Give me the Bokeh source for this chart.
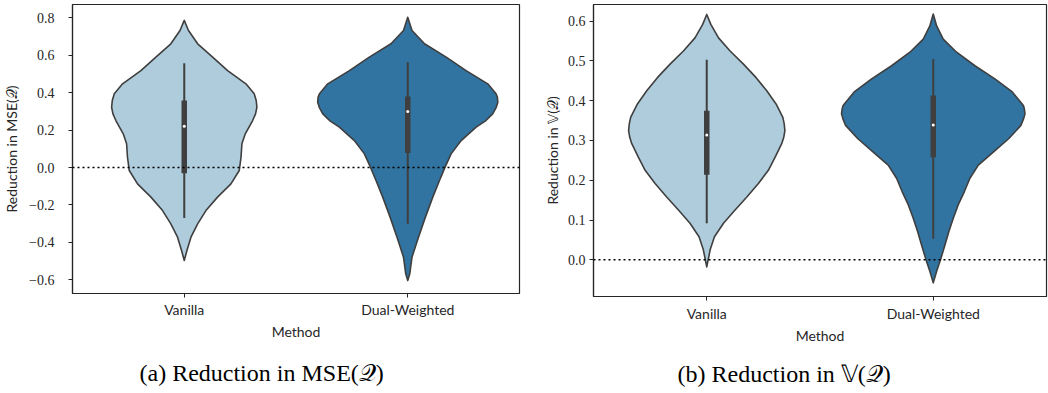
from bokeh.plotting import figure
from bokeh.layouts import row
from bokeh.models import Range1d, FixedTicker, Span, Title, CustomJSTickFormatter
from bokeh.embed import file_html
from bokeh.resources import INLINE

methods = ["Vanilla", "Dual-Weighted"]
fill_colors = ["#aeccdb", "#3274a1"]

# ---- panel (a): reduction in MSE(Q) ----
mse_vanilla_level = [0.786, 0.732, 0.661, 0.590, 0.518, 0.447, 0.394, 0.358, 0.322, 0.287, 0.251,
                     0.180, 0.127, 0.055, -0.016, -0.087, -0.158, -0.230, -0.301, -0.372,
                     -0.443, -0.497]
mse_vanilla_width = [0.0, 0.019, 0.060, 0.127, 0.194, 0.276, 0.313, 0.322, 0.325, 0.319, 0.306,
                     0.273, 0.258, 0.254, 0.246, 0.209, 0.149, 0.097, 0.060, 0.030,
                     0.012, 0.0]
mse_dual_level = [0.803, 0.732, 0.661, 0.590, 0.518, 0.447, 0.394, 0.376, 0.349, 0.322, 0.287,
                  0.251, 0.216, 0.144, 0.073, 0.002, -0.069, -0.158, -0.265, -0.372, -0.479,
                  -0.568, -0.604]
mse_dual_width = [0.0, 0.019, 0.075, 0.172, 0.261, 0.358, 0.395, 0.401, 0.403, 0.396, 0.380,
                  0.350, 0.306, 0.239, 0.194, 0.167, 0.142, 0.112, 0.079, 0.048, 0.019,
                  0.009, 0.0]
mse_whisker_lo = [-0.269, -0.301]
mse_whisker_hi = [0.557, 0.563]
mse_q1 = [-0.030, 0.077]
mse_q3 = [0.358, 0.379]
mse_median = [0.221, 0.299]
mse_yticks = [-0.6, -0.4, -0.2, 0.0, 0.2, 0.4, 0.6, 0.8]

# ---- panel (b): reduction in V(Q) ----
var_vanilla_level = [0.617, 0.592, 0.558, 0.525, 0.492, 0.458, 0.425, 0.392, 0.358, 0.342,
                     0.325, 0.308, 0.292, 0.258, 0.225, 0.192, 0.158, 0.125, 0.092, 0.058,
                     0.025, -0.018]
var_vanilla_width = [0.0, 0.018, 0.052, 0.103, 0.162, 0.218, 0.265, 0.306, 0.336, 0.342,
                     0.345, 0.340, 0.331, 0.302, 0.272, 0.228, 0.177, 0.125, 0.074, 0.034,
                     0.015, 0.0]
var_dual_level = [0.618, 0.588, 0.555, 0.522, 0.488, 0.455, 0.422, 0.388, 0.380, 0.367, 0.355,
                  0.338, 0.305, 0.271, 0.238, 0.205, 0.171, 0.138, 0.104, 0.071, 0.038, 0.0,
                  -0.029, -0.058]
var_dual_width = [0.0, 0.015, 0.044, 0.103, 0.184, 0.272, 0.349, 0.398, 0.402, 0.405, 0.399,
                  0.387, 0.334, 0.265, 0.199, 0.162, 0.137, 0.110, 0.088, 0.069, 0.052, 0.032,
                  0.015, 0.0]
var_whisker_lo = [0.092, 0.053]
var_whisker_hi = [0.503, 0.505]
var_q1 = [0.214, 0.258]
var_q3 = [0.375, 0.413]
var_median = [0.314, 0.339]
var_yticks = [0.0, 0.1, 0.2, 0.3, 0.4, 0.5, 0.6]

EDGE = "#3f3f3f"
AXC = "#262626"


def panel(ylabel, caption, yrange, yticks, shapes, wlo, whi, q1, q3, med,
          frame_w, frame_h, b_left, b_right, b_top, y_standoff, ylab_standoff,
          x_standoff, cap_standoff, cap_offset):
    p = figure(output_backend="svg", toolbar_location=None,
               frame_width=frame_w, frame_height=frame_h,
               min_border_left=b_left, min_border_right=b_right,
               min_border_top=b_top, min_border_bottom=0,
               x_range=Range1d(-0.5, len(methods) - 0.5),
               y_range=Range1d(*yrange))
    p.grid.visible = False
    p.background_fill_color = "white"
    p.border_fill_color = "white"
    p.outline_line_color = AXC
    p.outline_line_width = 1.2

    # x axis
    xa = p.xaxis[0]
    xa.ticker = FixedTicker(ticks=list(range(len(methods))))
    xa.major_label_overrides = {i: m for i, m in enumerate(methods)}
    xa.axis_label = "Method"
    xa.axis_label_text_font = "Lato"
    xa.axis_label_text_font_size = "14px"
    xa.axis_label_text_font_style = "normal"
    xa.axis_label_text_color = AXC
    xa.axis_label_standoff = 2
    xa.major_label_text_font = "Lato"
    xa.major_label_text_font_size = "14px"
    xa.major_label_text_color = AXC
    xa.major_label_standoff = x_standoff

    # y axis
    ya = p.yaxis[0]
    ya.ticker = FixedTicker(ticks=yticks)
    ya.formatter = CustomJSTickFormatter(
        code="return tick.toFixed(1).replace('-', '\u2212');")
    ya.axis_label = ylabel
    ya.axis_label_text_font = "Lato"
    ya.axis_label_text_font_size = "14px"
    ya.axis_label_text_font_style = "normal"
    ya.axis_label_text_color = AXC
    ya.axis_label_standoff = ylab_standoff
    ya.major_label_text_font = "Liberation Serif"
    ya.major_label_text_font_size = "14px"
    ya.major_label_text_color = AXC
    ya.major_label_standoff = y_standoff

    for ax in (xa, ya):
        ax.axis_line_color = AXC
        ax.axis_line_width = 1.2
        ax.major_tick_line_color = AXC
        ax.major_tick_line_width = 1.0
        ax.major_tick_in = 0
        ax.major_tick_out = 4
        ax.minor_tick_line_color = None

    # violins
    for i, (levels, widths) in enumerate(shapes):
        xs = [i - w for w in widths] + [i + w for w in reversed(widths)]
        ys = list(levels) + list(reversed(levels))
        p.patch(xs, ys, fill_color=fill_colors[i], line_color=EDGE, line_width=1.6,
                line_join="round")

    pos = list(range(len(methods)))
    p.segment(x0=pos, y0=wlo, x1=pos, y1=whi, line_color=EDGE, line_width=2)
    p.segment(x0=pos, y0=q1, x1=pos, y1=q3, line_color=EDGE, line_width=5.5,
              line_cap="butt")
    p.scatter(x=pos, y=med, size=3, marker="circle", fill_color="white", line_color=None)

    p.add_layout(Span(location=0, dimension="width", line_color="black",
                      line_width=1.6, line_dash="2 3"))

    cap = Title(text=caption, align="left", text_font="Liberation Serif",
                text_font_size="24px", text_font_style="normal", text_color="black",
                standoff=cap_standoff, offset=cap_offset)
    p.add_layout(cap, "below")
    return p


pa = panel("Reduction in MSE(\U0001D4AC)", "(a) Reduction in MSE(\U0001D4AC)",
           (-0.673, 0.871), mse_yticks,
           [(mse_vanilla_level, mse_vanilla_width), (mse_dual_level, mse_dual_width)],
           mse_whisker_lo, mse_whisker_hi, mse_q1, mse_q3, mse_median,
           447, 289, 70, 3, 4, 14, 6, 3, 30, 67)

pb = panel("Reduction in \U0001D54D(\U0001D4AC)", "(b) Reduction in \U0001D54D(\U0001D4AC)",
           (-0.0923, 0.642), var_yticks,
           [(var_vanilla_level, var_vanilla_width), (var_dual_level, var_dual_width)],
           var_whisker_lo, var_whisker_hi, var_q1, var_q3, var_median,
           453, 292, 71, 4, 4, 4, 4, 4, 24, 84)

layout = row(pa, pb)

open("out.html", "w").write(file_html(layout, INLINE))
